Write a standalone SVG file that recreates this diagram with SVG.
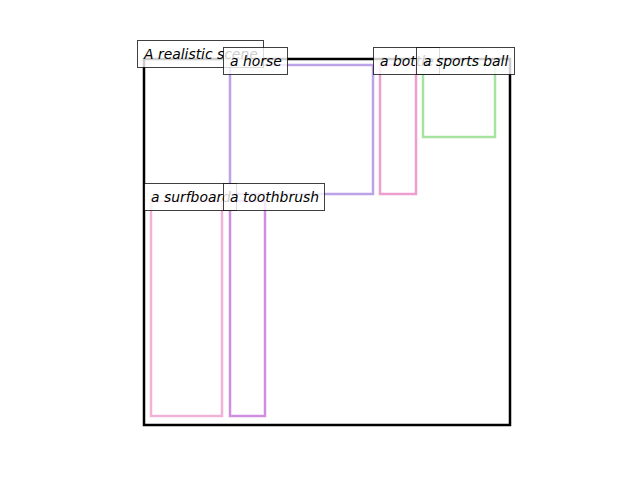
<svg xmlns="http://www.w3.org/2000/svg" width="640" height="480" viewBox="0 0 640 480">
<style>
.box{fill:none;stroke-width:2.5}
.lb rect{fill:#fff;fill-opacity:0.8;stroke:#000;stroke-opacity:0.75;stroke-width:1}
.lb text{font-family:"DejaVu Sans",sans-serif;font-style:oblique;font-size:13.9px;fill:#000}
</style>
<rect width="640" height="480" fill="#fff"/>
<g id="scene">
<rect x="144" y="59" width="366" height="366" fill="none" stroke="#000" stroke-width="2.5"/>
</g>
<g id="connectors"></g>
<g id="horse"><rect class="box" x="230" y="65" width="143" height="129" stroke="#bca2e6"/></g>
<g id="bottle"><rect class="box" x="380" y="65" width="36" height="129" stroke="#ee9fcf"/></g>
<g id="sportsball"><rect class="box" x="423" y="65" width="72" height="72" stroke="#a6e3a0"/></g>
<g id="surfboard"><rect class="box" x="151" y="201" width="71" height="215" stroke="#f0b2d6"/></g>
<g id="toothbrush"><rect class="box" x="230" y="201" width="35" height="215" stroke="#d08ee0"/></g>
<g id="label-scene" class="lb"><rect x="137.5" y="40.5" width="126" height="27"/><text x="144" y="59">A realistic scene</text></g>
<g id="label-horse" class="lb"><rect x="223.5" y="47.5" width="64" height="27"/><text x="230" y="66">a horse</text></g>
<g id="label-bottle" class="lb"><rect x="373.5" y="47.5" width="66" height="27"/><text x="380" y="66">a bottle</text></g>
<g id="label-sportsball" class="lb"><rect x="416.5" y="47.5" width="98" height="27"/><text x="423" y="66">a sports ball</text></g>
<g id="label-surfboard" class="lb"><rect x="144.5" y="183.5" width="92" height="27"/><text x="151" y="202">a surfboard</text></g>
<g id="label-toothbrush" class="lb"><rect x="223.5" y="183.5" width="101" height="27"/><text x="230" y="202">a toothbrush</text></g>
</svg>
